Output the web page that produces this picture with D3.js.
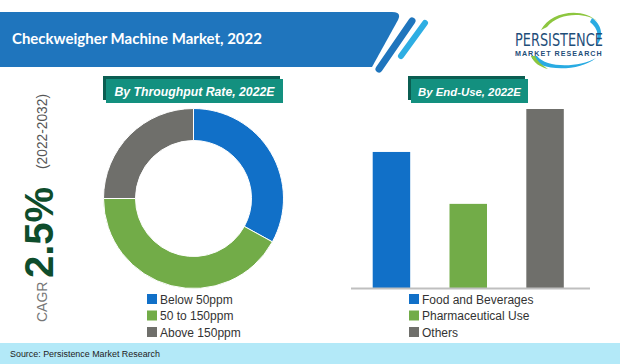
<!DOCTYPE html>
<html><head><meta charset="utf-8">
<script src="https://cdn.jsdelivr.net/npm/d3@7"></script>
<style>html,body{margin:0;padding:0;background:#fff;}svg{display:block;}</style>
</head><body>
<script>
const title = "Checkweigher Machine Market, 2022";
const throughputTitle = "By Throughput Rate, 2022E";
const endUseTitle = "By End-Use, 2022E";
const throughputCats = ["Below 50ppm", "50 to 150ppm", "Above 150ppm"];
const throughputShares = [33, 42, 25];
const endUseCats = ["Food and Beverages", "Pharmaceutical Use", "Others"];
const endUseValues = [76, 47, 100];
const seriesColors = ["#1170C8", "#72AC48", "#6F6F6B"];
const cagrValue = "2.5%";
const cagrPeriod = "(2022-2032)";
const source = "Source: Persistence Market Research";

const W = 620, H = 364;
const svg = d3.select("body").append("svg").attr("width", W).attr("height", H);
const font = "'Liberation Sans', Arial, sans-serif";

function fitText(sel, target) {
  const len = sel.node().getComputedTextLength();
  const fs = parseFloat(sel.attr("font-size"));
  sel.attr("font-size", (fs * target / len).toFixed(2));
}

// Header band
svg.append("path")
  .attr("d", "M0,12 L392,12 Q402,12 398,20 L372,67 L0,67 Z")
  .attr("fill", "#1F75BD");
svg.append("line").attr("x1", 412).attr("y1", 21).attr("x2", 379).attr("y2", 69)
  .attr("stroke", "#1F75BD").attr("stroke-width", 7).attr("stroke-linecap", "round");
svg.append("line").attr("x1", 425).attr("y1", 23).attr("x2", 401).attr("y2", 56)
  .attr("stroke", "#2EAEE3").attr("stroke-width", 6).attr("stroke-linecap", "round");
const tt = svg.append("text").attr("x", 12).attr("y", 44).attr("fill", "#fff")
  .attr("font-family", "Lato, 'Open Sans', sans-serif").attr("font-weight", "bold")
  .attr("font-size", 17).text(title);
fitText(tt, 250);

// Logo
const logo = svg.append("g");
logo.append("path").attr("d", "M541,30 C550,12 582,6 598,22 C588,13 560,11 547,27 Z").attr("fill", "#8DC63F");
logo.append("path").attr("d", "M592,18 C604,26 603,40 596,46 C599,38 599,29 590,22 Z").attr("fill", "#29ABE2");
logo.append("path").attr("d", "M531,56 C536,71 578,73 596,58 C578,68 546,68 537,56 Z").attr("fill", "#29ABE2");
logo.append("path").attr("d", "M531,56 C534,63 540,67 548,69 C542,65 537,61 535,56 Z").attr("fill", "#8DC63F");
const lp = logo.append("text").attr("x", 0).attr("y", 0).attr("fill", "#1F4E79")
  .attr("font-family", "'Liberation Sans Narrow', 'DejaVu Sans Condensed', sans-serif")
  .attr("font-size", 14).text("PERSISTENCE");
const lpLen = lp.node().getComputedTextLength();
lp.attr("transform", `translate(515,46) scale(${88 / lpLen},1.2)`);
const lm = logo.append("text").attr("x", 515).attr("y", 56).attr("fill", "#1F4E79")
  .attr("font-family", font).attr("font-weight", "bold")
  .attr("font-size", 7).attr("letter-spacing", 1).text("MARKET RESEARCH");
fitText(lm, 88);

// Section title boxes
function titleBox(x, y, w, h, label) {
  const g = svg.append("g");
  g.append("rect").attr("x", x - 3).attr("y", y - 3).attr("width", w).attr("height", h).attr("fill", "#0B5E52");
  g.append("rect").attr("x", x).attr("y", y).attr("width", w).attr("height", h).attr("fill", "#13907F");
  const t = g.append("text").attr("x", x + w / 2).attr("y", y + h / 2 + 5)
    .attr("text-anchor", "middle").attr("fill", "#fff").attr("font-family", font)
    .attr("font-weight", "bold").attr("font-style", "italic").attr("font-size", 14).text(label);
  return t;
}
fitText(titleBox(106, 79, 177, 24, throughputTitle), 160);
fitText(titleBox(411, 79, 117, 24, endUseTitle), 103);

// Donut
const pie = d3.pie().sort(null).value(d => d);
const arc = d3.arc().innerRadius(58).outerRadius(90);
const donut = svg.append("g").attr("transform", "translate(193.5,198.5)");
donut.selectAll("path").data(pie(throughputShares)).join("path")
  .attr("d", arc).attr("fill", (d, i) => seriesColors[i])
  .attr("stroke", "#fff").attr("stroke-width", 1);

// Bars
const x = d3.scaleBand().domain(endUseCats).range([353.5, 583]).paddingInner(0.512).paddingOuter(0.25);
const y = d3.scaleLinear().domain([0, 100]).range([288, 109]);
svg.append("g").selectAll("rect").data(endUseValues).join("rect")
  .attr("x", (d, i) => x(endUseCats[i])).attr("width", x.bandwidth())
  .attr("y", d => y(d)).attr("height", d => y(0) - y(d))
  .attr("fill", (d, i) => seriesColors[i]);
svg.append("line").attr("x1", 351).attr("x2", 590).attr("y1", y(0) + 0.5).attr("y2", y(0) + 0.5)
  .attr("stroke", "#BFBFBF").attr("stroke-width", 2);

// Legends
function legend(x0, cats) {
  const g = svg.append("g");
  cats.forEach((c, i) => {
    const cy = 299 + i * 16.5;
    g.append("rect").attr("x", x0).attr("y", cy - 5).attr("width", 10).attr("height", 10).attr("fill", seriesColors[i]);
    g.append("text").attr("x", x0 + 13).attr("y", cy + 4.5).attr("fill", "#333")
      .attr("font-family", font).attr("font-size", 12).text(c);
  });
}
legend(147, throughputCats);
legend(409, endUseCats);

// CAGR
svg.append("text").attr("transform", "translate(47,322) rotate(-90)")
  .attr("fill", "#777").attr("font-family", font).attr("font-size", 14).text("CAGR");
svg.append("text").attr("transform", "translate(53,278) rotate(-90)")
  .attr("fill", "#0E4D2C").attr("font-family", font).attr("font-weight", "bold").attr("font-size", 40).text(cagrValue);
const cp = svg.append("text").attr("transform", "translate(47,169) rotate(-90)")
  .attr("fill", "#555").attr("font-family", font).attr("font-size", 13).text(cagrPeriod);
fitText(cp, 75);

// Footer
svg.append("rect").attr("x", 0).attr("y", 343).attr("width", W).attr("height", 21).attr("fill", "#B3E9F8");
const ft = svg.append("text").attr("x", 10).attr("y", 357).attr("fill", "#222").attr("font-family", font)
  .attr("font-size", 10.5).text(source);
fitText(ft, 150);
</script>
</body></html>
